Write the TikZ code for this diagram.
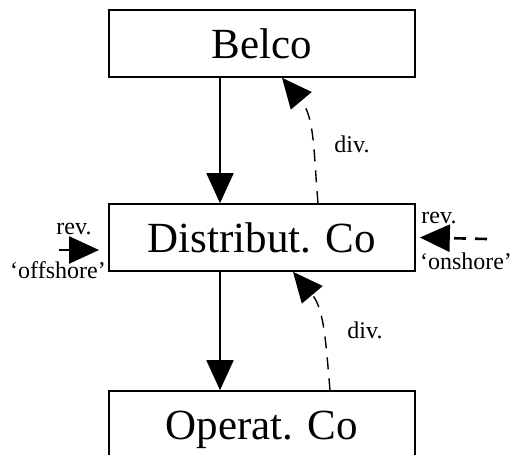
\documentclass[tikz,border=0pt]{standalone}
\usepackage{fontspec}
\setmainfont{Liberation Serif}
\usetikzlibrary{arrows.meta}
\tikzset{
	box/.style={draw,line width=1.6pt,minimum width=306pt,minimum height=67pt,inner sep=0pt,
		text height=30pt,text depth=0pt,font=\fontsize{43}{50}\selectfont},
	lab/.style={inner sep=0pt,font=\fontsize{24}{28}\selectfont},
	flow/.style={line width=1.6pt,-{Triangle[width=27pt,length=30pt]}},
	divflow/.style={flow,line width=1.4pt,dash pattern=on 12pt off 9pt},
	revflow/.style={flow,line width=2.6pt}
}
\begin{document}
\begin{tikzpicture}[x=1pt,y=-1pt]
	\useasboundingbox (0,0) rectangle (514,455);

	\node [box] (belco) at (262,43.5) {Belco};
	\node [box] (distrib) at (262,237.5) {Distribut. Co};
	\node [box] (operat) at (262,424.5) {Operat. Co};

	\node [lab] (divA) at (352,144) {div.};
	\node [lab] (divB) at (365,330) {div.};
	\node [lab] (revL) at (74,229) {rev.};
	\node [lab] (offshore) at (58,270) {`offshore'};
	\node [lab] (revR) at (439,218) {rev.};
	\node [lab] (onshore) at (466,261) {`onshore'};

	\coordinate (inL) at (59,250);
	\coordinate (inLtip) at (99,250);
	\coordinate (inR) at (487,239);

	\draw [flow] ([xshift=-42pt]belco.south) -- ([xshift=-42pt]distrib.north);
	\draw [flow] ([xshift=-42pt]distrib.south) -- ([xshift=-42pt]operat.north);
	\draw [divflow] ([xshift=56pt]distrib.north) to[out=95,in=-50] ([xshift=20pt]belco.south);
	\draw [divflow] ([xshift=68pt]operat.north) to[out=95,in=-50] ([xshift=31pt]distrib.south);
	\draw [revflow] (inL) -- (inLtip);
	\draw [revflow,dash pattern=on 12pt off 9pt] (inR) -- ([xshift=4pt]distrib.east);
\end{tikzpicture}
\end{document}
